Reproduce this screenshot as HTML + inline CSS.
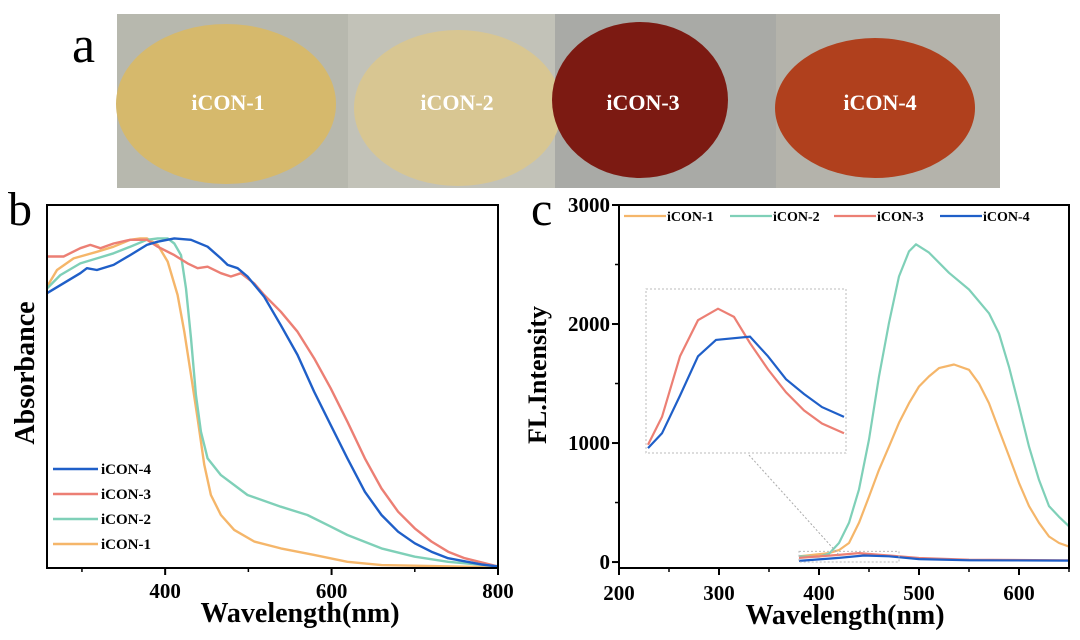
<!DOCTYPE html>
<html><head><meta charset="utf-8"><style>
html,body{margin:0;padding:0;background:#fff;}
svg{display:block;font-family:"Liberation Serif",serif;}
</style></head><body>
<svg id="fig" width="1080" height="640" viewBox="0 0 1080 640">
<g>
 <text x="72" y="62" font-size="52">a</text>
 <rect x="117" y="14" width="883" height="174" fill="#b7b8ae"/>
 <rect x="348" y="14" width="207" height="174" fill="#c2c2b8"/>
 <rect x="555" y="14" width="221" height="174" fill="#a9aaa6"/>
 <rect x="776" y="14" width="224" height="174" fill="#b4b3ab"/>
 <ellipse cx="226" cy="104" rx="110" ry="80" fill="#d6b96c"/>
 <ellipse cx="458" cy="108" rx="104" ry="78" fill="#d8c692"/>
 <ellipse cx="640" cy="100" rx="88" ry="78" fill="#7c1a12"/>
 <ellipse cx="875" cy="108" rx="100" ry="70" fill="#b0401d"/>
 <g font-weight="bold" font-size="22" fill="#fff" text-anchor="middle">
  <text x="228" y="110">iCON-1</text>
  <text x="457" y="110">iCON-2</text>
  <text x="643" y="110">iCON-3</text>
  <text x="880" y="110">iCON-4</text>
 </g>
</g>
<g id="pb"></g>
<g id="pc"></g>
<text x="8" y="225" font-size="48">b</text>
<text x="531" y="225" font-size="48">c</text>
</svg>
<script>
// ---------- Panel b data (absorbance, normalized 0..1) ----------
const bSeriesNames = ["iCON-4","iCON-3","iCON-2","iCON-1"];
const bColors = ["#1f5fc8","#ec7f74","#7fd0b8","#f5b66a"];
const bTicks = [400,600,800];
const bMinorTicks = [300,500,700];
const absWl4 = [258,298,306,318,338,358,378,391,411,431,451,467,475,487,499,519,539,559,579,599,619,640,660,680,700,720,740,780,800];
const abs4 = [0.757,0.812,0.826,0.821,0.835,0.862,0.89,0.899,0.908,0.904,0.885,0.853,0.835,0.826,0.803,0.747,0.669,0.587,0.486,0.394,0.302,0.21,0.146,0.1,0.068,0.045,0.027,0.01,0.004];
const absWl3 = [258,278,298,310,322,338,358,378,391,411,427,439,451,467,479,491,507,519,539,559,579,599,619,640,660,680,700,720,740,760,800];
const abs3 = [0.858,0.858,0.881,0.89,0.881,0.894,0.904,0.904,0.885,0.862,0.839,0.826,0.83,0.812,0.803,0.812,0.784,0.752,0.706,0.651,0.578,0.495,0.403,0.302,0.219,0.155,0.109,0.073,0.045,0.027,0.004];
const absWl2 = [258,274,298,318,338,358,378,391,403,411,419,425,431,437,443,451,467,499,539,571,599,619,660,700,740,800];
const abs2 = [0.77,0.807,0.839,0.853,0.867,0.885,0.904,0.908,0.908,0.894,0.862,0.77,0.633,0.477,0.376,0.302,0.256,0.201,0.169,0.146,0.114,0.091,0.054,0.031,0.017,0.005];
const absWl1 = [258,270,290,318,338,358,370,378,391,403,415,423,431,439,447,455,467,483,507,539,579,619,660,800];
const abs1 = [0.775,0.821,0.853,0.871,0.885,0.904,0.908,0.908,0.89,0.844,0.752,0.651,0.532,0.412,0.284,0.201,0.146,0.105,0.073,0.054,0.036,0.017,0.008,0.002];

// ---------- Panel c data (fluorescence) ----------
const cSeriesNames = ["iCON-1","iCON-2","iCON-3","iCON-4"];
const cColors = ["#f5b66a","#7fd0b8","#ec7f74","#1f5fc8"];
const cXTicks = [200,300,400,500,600];
const cYTicks = [0,1000,2000,3000];
const flWl1 = [380,410,420,430,440,450,460,470,480,490,500,510,520,535,550,560,570,580,590,600,610,620,630,640,650];
const fl1 = [48,75,100,160,330,550,775,970,1170,1335,1475,1560,1630,1660,1615,1500,1335,1110,890,665,470,330,215,160,130];
const flWl2 = [380,400,410,420,430,440,450,460,470,480,490,497,510,530,550,570,580,590,600,610,620,630,640,650];
const fl2 = [48,45,70,160,330,610,1030,1560,2010,2400,2610,2670,2600,2430,2290,2090,1920,1640,1310,970,690,470,380,300];
const flWl3 = [380,420,440,460,500,550,650];
const fl3 = [35,60,75,62,34,20,14];
const flWl4 = [380,420,445,470,500,550,650];
const fl4 = [10,35,55,48,25,15,12];
// inset (zoom of 380-480 nm region), relative intensity 0..1
const insetWl3 = [381,388,397,406,416,424,432,441,450,459,468,479];
const inset3 = [0.05,0.22,0.59,0.81,0.88,0.83,0.67,0.51,0.37,0.26,0.18,0.12];
const insetWl4 = [381,388,397,406,415,432,441,450,459,468,479];
const inset4 = [0.03,0.12,0.35,0.59,0.69,0.71,0.59,0.45,0.36,0.28,0.22];

const NS="http://www.w3.org/2000/svg";
function mk(parent,tag,attrs){const e=document.createElementNS(NS,tag);for(const k in attrs)e.setAttribute(k,attrs[k]);parent.appendChild(e);return e;}
function pathD(xs,ys,fx,fy){return xs.map((x,i)=>(i?"L":"M")+fx(x).toFixed(1)+","+fy(ys[i]).toFixed(1)).join("");}

// ---- Panel b ----
const pb=document.getElementById("pb");
const bL=47,bR=498,bT=205,bB=568,bX0=258,bX1=800;
const bx=v=>bL+(v-bX0)/(bX1-bX0)*(bR-bL);
const by=v=>bB-(v-0)*(bB-bT)/1.0;
const bData=[[absWl4,abs4],[absWl3,abs3],[absWl2,abs2],[absWl1,abs1]];
const bClip=mk(pb,"clipPath",{id:"bclip"});mk(bClip,"rect",{x:bL,y:bT,width:bR-bL,height:bB-bT});
[3,2,1,0].forEach(i=>{
 const p=mk(pb,"path",{d:pathD(bData[i][0],bData[i][1],bx,by),fill:"none",stroke:bColors[i],"stroke-width":2.4,"clip-path":"url(#bclip)","stroke-linejoin":"round"});
 
 
});
const bFrame=mk(pb,"rect",{x:bL,y:bT,width:bR-bL,height:bB-bT,fill:"none",stroke:"#000","stroke-width":2});


bTicks.forEach(t=>{
 const l=mk(pb,"line",{x1:bx(t),x2:bx(t),y1:bB,y2:bB+7,stroke:"#000","stroke-width":2});
 
 
 const tx=mk(pb,"text",{x:bx(t),y:598,"font-size":21,"font-weight":"bold","text-anchor":"middle"});tx.textContent=t;
 
 
});
bMinorTicks.forEach(t=>{
 const l=mk(pb,"line",{x1:bx(t),x2:bx(t),y1:bB,y2:bB+4,stroke:"#000","stroke-width":1.5});
 
 
});
let t1=mk(pb,"text",{x:300,y:622,"font-size":28,"font-weight":"bold","text-anchor":"middle"});t1.textContent="Wavelength(nm)";


let t2=mk(pb,"text",{x:0,y:0,"font-size":28,"font-weight":"bold","text-anchor":"middle",transform:"translate(34,373) rotate(-90)"});t2.textContent="Absorbance";


bSeriesNames.forEach((n,i)=>{
 const y=469+i*25;
 const g=mk(pb,"g",{});
 
 
 mk(g,"line",{x1:53,x2:98,y1:y,y2:y,stroke:bColors[i],"stroke-width":2.4});
 const tx=mk(g,"text",{x:101,y:y+5,"font-size":15,"font-weight":"bold"});tx.textContent=n;
});

// ---- Panel c ----
const pc=document.getElementById("pc");
const cL=619,cR=1069,cT=205,cB=568,cX0=200,cX1=650,cY0=-50,cY1=3000;
const cx=v=>cL+(v-cX0)/(cX1-cX0)*(cR-cL);
const cy=v=>cB-(v-cY0)/(cY1-cY0)*(cB-cT);
const cData=[[flWl1,fl1],[flWl2,fl2],[flWl3,fl3],[flWl4,fl4]];
const cClip=mk(pc,"clipPath",{id:"cclip"});mk(cClip,"rect",{x:cL,y:cT,width:cR-cL,height:cB-cT});
cData.forEach((d,i)=>{
 const p=mk(pc,"path",{d:pathD(d[0],d[1],cx,cy),fill:"none",stroke:cColors[i],"stroke-width":2.2,"clip-path":"url(#cclip)","stroke-linejoin":"round"});
 
 
});
// inset
const iL=cx(227),iR=cx(427),iT=cy(2294),iB=cy(916);
const ix=v=>iL+(v-380)/100*(iR-iL);
const iy=v=>iB-v*(iB-iT);
const inBox=mk(pc,"rect",{x:iL,y:iT,width:iR-iL,height:iB-iT,fill:"none",stroke:"#bbb","stroke-width":1,"stroke-dasharray":"2,2"});


const zb=mk(pc,"rect",{x:cx(380),y:cy(90),width:cx(480)-cx(380),height:cy(0)-cy(90),fill:"none",stroke:"#bbb","stroke-width":1,"stroke-dasharray":"2,2"});


const con=mk(pc,"line",{x1:cx(330),y1:iB+2,x2:cx(420),y2:cy(60),stroke:"#aaa","stroke-width":1,"stroke-dasharray":"2,2"});


let ip=mk(pc,"path",{d:pathD(insetWl3,inset3,ix,iy),fill:"none",stroke:cColors[2],"stroke-width":2.2});


ip=mk(pc,"path",{d:pathD(insetWl4,inset4,ix,iy),fill:"none",stroke:cColors[3],"stroke-width":2.2});


const cFrame=mk(pc,"rect",{x:cL,y:cT,width:cR-cL,height:cB-cT,fill:"none",stroke:"#000","stroke-width":2});


cXTicks.forEach(t=>{
 const l=mk(pc,"line",{x1:cx(t),x2:cx(t),y1:cB,y2:cB+7,stroke:"#000","stroke-width":2});
 
 
 const m=mk(pc,"line",{x1:cx(t+50),x2:cx(t+50),y1:cB,y2:cB+4,stroke:"#000","stroke-width":1.5});
 
 
 const tx=mk(pc,"text",{x:cx(t),y:600,"font-size":21,"font-weight":"bold","text-anchor":"middle"});tx.textContent=t;
 
 
});
cYTicks.forEach(t=>{
 const l=mk(pc,"line",{x1:cL-7,x2:cL,y1:cy(t),y2:cy(t),stroke:"#000","stroke-width":2});
 
 
 if(t<3000){const m=mk(pc,"line",{x1:cL-4,x2:cL,y1:cy(t+500),y2:cy(t+500),stroke:"#000","stroke-width":1.5});
 
 }
 const tx=mk(pc,"text",{x:cL-9,y:cy(t)+7,"font-size":21,"font-weight":"bold","text-anchor":"end"});tx.textContent=t;
 
 
});
t1=mk(pc,"text",{x:845,y:624,"font-size":28,"font-weight":"bold","text-anchor":"middle"});t1.textContent="Wavelength(nm)";


t2=mk(pc,"text",{x:0,y:0,"font-size":26,"font-weight":"bold","text-anchor":"middle",transform:"translate(546,375) rotate(-90)"});t2.textContent="FL.Intensity";


const legX=[624,730,834,940];
cSeriesNames.forEach((n,i)=>{
 const g=mk(pc,"g",{});
 
 
 mk(g,"line",{x1:legX[i],x2:legX[i]+42,y1:216,y2:216,stroke:cColors[i],"stroke-width":2.2});
 const tx=mk(g,"text",{x:legX[i]+43,y:221,"font-size":14,"font-weight":"bold"});tx.textContent=n;
});
</script>
</body></html>
